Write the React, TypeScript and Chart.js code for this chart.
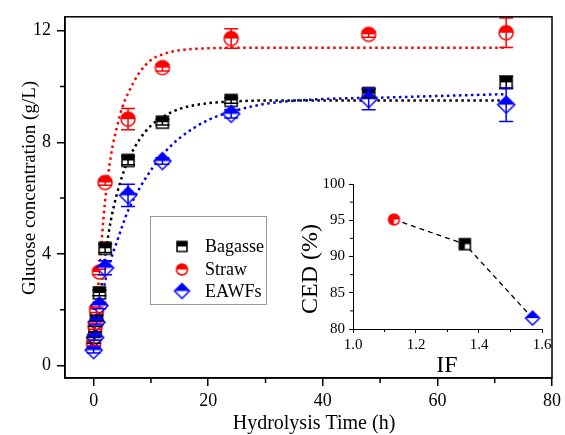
import React, { useEffect, useRef } from "react";
import { Chart, registerables } from "chart.js";
Chart.register(...registerables);

// ---------- main chart data ----------
const timeH = [0, 0.25, 0.5, 1, 2, 6, 12, 24, 48, 72];
const bagasse = [0.9, 1.3, 1.7, 2.6, 4.2, 7.35, 8.72, 9.5, 9.75, 10.15];
const bagasseErr = [0.1, 0.1, 0.1, 0.1, 0.15, 0.15, 0.1, 0.1, 0.15, 0.22];
const straw = [0.8, 1.4, 2.0, 3.35, 6.56, 8.83, 10.68, 11.72, 11.87, 11.93];
const strawErr = [0.1, 0.1, 0.1, 0.1, 0.1, 0.38, 0.12, 0.35, 0.1, 0.53];
const eawfs = [0.55, 1.0, 1.55, 2.15, 3.5, 6.1, 7.33, 9.02, 9.55, 9.35];
const eawfsErr = [0.1, 0.1, 0.1, 0.12, 0.25, 0.4, 0.12, 0.15, 0.38, 0.6];

const fitTime = [0, 0.5, 1, 2, 3, 4, 5, 6, 8, 10, 12, 15, 20, 25, 30, 40, 50, 60, 72];
const bagasseFit = [0.3, 1.3, 2.2, 3.9, 5.2, 6.1, 6.8, 7.35, 8.1, 8.6, 8.9, 9.2, 9.4, 9.47, 9.5, 9.5, 9.5, 9.5, 9.5];
const strawFit = [0.3, 1.9, 3.4, 5.9, 7.5, 8.5, 9.25, 9.75, 10.5, 10.95, 11.15, 11.3, 11.37, 11.39, 11.39, 11.39, 11.39, 11.39, 11.39];
const eawfsFit = [0.3, 1.0, 1.7, 3.0, 3.8, 4.4, 5.0, 5.55, 6.35, 7.0, 7.55, 8.15, 8.8, 9.15, 9.38, 9.55, 9.6, 9.66, 9.73];

const xTickValues = [0, 10, 20, 30, 40, 50, 60, 70, 80];
const xTickLabels = ["0", "", "20", "", "40", "", "60", "", "80"];
const yTickValues = [0, 2, 4, 6, 8, 10, 12];
const yTickLabels = ["0", "", "4", "", "8", "", "12"];

const seriesNames = ["Bagasse", "Straw", "EAWFs"];

// ---------- inset data ----------
const insetIF = [1.13, 1.355, 1.57];
const insetCED = [95.1, 91.7, 81.5];
const insetXTicks = [1.0, 1.1, 1.2, 1.3, 1.4, 1.5, 1.6];
const insetXLabels = ["1.0", "", "1.2", "", "1.4", "", "1.6"];
const insetYTicks = [80, 82.5, 85, 87.5, 90, 92.5, 95, 97.5, 100];
const insetYLabels = ["80", "", "85", "", "90", "", "95", "", "100"];

const FONT = "'Liberation Serif', 'Times New Roman', serif";
const BLACK = "#000000";
const RED = "#ff0000";
const BLUE = "#0000ff";

type Shape = "square" | "circle" | "diamond";
function makeMarker(shape: Shape, color: string, size: number, mode: "top" | "quarter"): HTMLCanvasElement {
  const pad = 2;
  const s = Math.round(size + pad * 2);
  const c = document.createElement("canvas");
  c.width = s;
  c.height = s;
  const g = c.getContext("2d")!;
  const cx = s / 2, cy = s / 2, r = size / 2;
  const path = () => {
    g.beginPath();
    if (shape === "circle") g.arc(cx, cy, r, 0, Math.PI * 2);
    else if (shape === "square") g.rect(cx - r, cy - r, size, size);
    else {
      g.moveTo(cx, cy - r);
      g.lineTo(cx + r, cy);
      g.lineTo(cx, cy + r);
      g.lineTo(cx - r, cy);
      g.closePath();
    }
  };
  path();
  g.fillStyle = "#ffffff";
  g.fill();
  g.save();
  path();
  g.clip();
  g.fillStyle = color;
  if (mode === "top") {
    g.fillRect(0, 0, s, cy);
  } else {
    g.fillRect(0, 0, s, s);
    g.fillStyle = "#ffffff";
    g.fillRect(cx, cy, s, s);
  }
  g.restore();
  path();
  g.lineWidth = 1.5;
  g.strokeStyle = color;
  g.stroke();
  return c;
}

export default function App() {
  const mainRef = useRef<HTMLCanvasElement>(null);
  const insetRef = useRef<HTMLCanvasElement>(null);

  useEffect(() => {
    const sqM = makeMarker("square", BLACK, 12, "top");
    const ciM = makeMarker("circle", RED, 14, "top");
    const diM = makeMarker("diamond", BLUE, 17, "top");
    const sqL = makeMarker("square", BLACK, 10, "top");
    const ciL = makeMarker("circle", RED, 11, "top");
    const diL = makeMarker("diamond", BLUE, 15, "top");
    const markers = [sqM, ciM, diM];
    const legendMarkers = [sqL, ciL, diL];
    const colors = [BLACK, RED, BLUE];
    const values = [bagasse, straw, eawfs];
    const errs = [bagasseErr, strawErr, eawfsErr];
    const fits = [bagasseFit, strawFit, eawfsFit];

    const fitSets = fits.map((f, k) => ({
      label: seriesNames[k] + " fit",
      data: fitTime.map((t, i) => ({ x: t, y: f[i] })),
      showLine: true,
      borderColor: colors[k],
      borderWidth: 2.5,
      borderDash: [2.5, 3.5],
      borderCapStyle: "butt" as const,
      pointRadius: 0,
      cubicInterpolationMode: "monotone" as const,
      order: 10,
    }));
    const pointSets = values.map((v, k) => ({
      label: seriesNames[k],
      data: timeH.map((t, i) => ({ x: t, y: v[i] })),
      showLine: false,
      pointStyle: markers[k] as any,
      pointRadius: 7,
      borderColor: colors[k],
      backgroundColor: colors[k],
      order: 3 - k,
    }));

    const mainPlugin = {
      id: "mainDecor",
      afterDatasetsDraw(chart: any) {
        const { ctx } = chart;
        const xs = chart.scales.x, ys = chart.scales.y;
        ctx.save();
        ctx.lineWidth = 1.5;
        for (let k = 0; k < 3; k++) {
          ctx.strokeStyle = colors[k];
          for (let i = 0; i < timeH.length; i++) {
            const x = xs.getPixelForValue(timeH[i]);
            const y1 = ys.getPixelForValue(values[k][i] + errs[k][i]);
            const y2 = ys.getPixelForValue(values[k][i] - errs[k][i]);
            ctx.beginPath();
            ctx.moveTo(x, y1);
            ctx.lineTo(x, y2);
            ctx.moveTo(x - 7, y1);
            ctx.lineTo(x + 7, y1);
            ctx.moveTo(x - 7, y2);
            ctx.lineTo(x + 7, y2);
            ctx.stroke();
          }
        }
        ctx.restore();
      },
      afterDraw(chart: any) {
        const { ctx, chartArea: a } = chart;
        const xs = chart.scales.x, ys = chart.scales.y;
        ctx.save();
        // frame
        ctx.strokeStyle = BLACK;
        ctx.lineWidth = 1.5;
        ctx.strokeRect(a.left, a.top, a.right - a.left, a.bottom - a.top);
        // minor ticks
        ctx.beginPath();
        xTickValues.forEach((v, i) => {
          if (xTickLabels[i] === "") {
            const x = xs.getPixelForValue(v);
            ctx.moveTo(x, a.bottom);
            ctx.lineTo(x, a.bottom + 5);
          }
        });
        yTickValues.forEach((v, i) => {
          if (yTickLabels[i] === "") {
            const y = ys.getPixelForValue(v);
            ctx.moveTo(a.left, y);
            ctx.lineTo(a.left - 5, y);
          }
        });
        ctx.stroke();
        // axis titles
        ctx.fillStyle = BLACK;
        ctx.font = `20px ${FONT}`;
        ctx.textAlign = "center";
        ctx.textBaseline = "middle";
        ctx.fillText("Hydrolysis Time (h)", 314, 424);
        ctx.save();
        ctx.translate(30, 188);
        ctx.rotate(-Math.PI / 2);
        ctx.font = `19px ${FONT}`;
        ctx.fillText("Glucose concentration (g/L)", 0, 0);
        ctx.restore();
        // legend
        ctx.strokeStyle = "#9a9a9a";
        ctx.lineWidth = 1;
        ctx.strokeRect(150.5, 216.5, 116, 88);
        const rows = [246.5, 269.5, 291];
        ctx.font = `18px ${FONT}`;
        ctx.textAlign = "left";
        ctx.fillStyle = BLACK;
        for (let k = 0; k < 3; k++) {
          const m = legendMarkers[k];
          ctx.drawImage(m, 182 - m.width / 2, rows[k] - m.height / 2);
          ctx.fillText(seriesNames[k], 205, rows[k] + 1);
        }
        ctx.restore();
      },
    };

    const main = new Chart(mainRef.current!, {
      type: "scatter",
      data: { datasets: [...fitSets, ...pointSets] as any },
      options: {
        animation: false,
        responsive: false,
        maintainAspectRatio: false,
        layout: { padding: { left: 0, right: 11, top: 15, bottom: 0 } },
        plugins: { legend: { display: false }, tooltip: { enabled: false } },
        scales: {
          x: {
            type: "linear",
            min: -5,
            max: 80,
            afterBuildTicks: (s: any) => {
              s.ticks = xTickValues.map((v) => ({ value: v }));
            },
            afterFit: (s: any) => {
              s.height = 57;
            },
            ticks: {
              autoSkip: false,
              maxRotation: 0,
              padding: 4,
              color: BLACK,
              font: { family: FONT, size: 18 },
              callback: (_v: any, i: number) => xTickLabels[i],
            },
            grid: {
              drawOnChartArea: false,
              drawTicks: true,
              tickLength: 8,
              lineWidth: 1.5,
              tickColor: (c: any) => (xTickLabels[c.index] ? BLACK : "rgba(0,0,0,0)"),
            },
            border: { color: BLACK, width: 1.5 },
          },
          y: {
            type: "linear",
            min: -0.45,
            max: 12.5,
            afterBuildTicks: (s: any) => {
              s.ticks = yTickValues.map((v) => ({ value: v }));
            },
            afterFit: (s: any) => {
              s.width = 65;
            },
            ticks: {
              autoSkip: false,
              padding: 6,
              color: BLACK,
              font: { family: FONT, size: 18 },
              callback: (_v: any, i: number) => yTickLabels[i],
            },
            grid: {
              drawOnChartArea: false,
              drawTicks: true,
              tickLength: 8,
              lineWidth: 1.5,
              tickColor: (c: any) => (yTickLabels[c.index] ? BLACK : "rgba(0,0,0,0)"),
            },
            border: { color: BLACK, width: 1.5 },
          },
        },
      },
      plugins: [mainPlugin],
    });

    // ---------- inset ----------
    const inRed = makeMarker("circle", RED, 11, "quarter");
    const inBlack = makeMarker("square", BLACK, 11, "quarter");
    const inBlue = makeMarker("diamond", BLUE, 14, "top");
    const insetPlugin = {
      id: "insetDecor",
      afterDraw(chart: any) {
        const { ctx, chartArea: a } = chart;
        const xs = chart.scales.x, ys = chart.scales.y;
        ctx.save();
        ctx.strokeStyle = BLACK;
        ctx.lineWidth = 1;
        ctx.beginPath();
        insetXTicks.forEach((v, i) => {
          if (insetXLabels[i] === "") {
            const x = xs.getPixelForValue(v);
            ctx.moveTo(x, a.bottom);
            ctx.lineTo(x, a.bottom + 3);
          }
        });
        insetYTicks.forEach((v, i) => {
          if (insetYLabels[i] === "") {
            const y = ys.getPixelForValue(v);
            ctx.moveTo(a.left, y);
            ctx.lineTo(a.left - 3, y);
          }
        });
        ctx.stroke();
        ctx.fillStyle = BLACK;
        ctx.font = `24px ${FONT}`;
        ctx.textAlign = "center";
        ctx.textBaseline = "middle";
        ctx.fillText("IF", 157, 226);
        ctx.save();
        ctx.translate(21, 129);
        ctx.rotate(-Math.PI / 2);
        ctx.fillText("CED (%)", 0, 0);
        ctx.restore();
        ctx.restore();
      },
    };
    const inset = new Chart(insetRef.current!, {
      type: "scatter",
      data: {
        datasets: [
          {
            label: "CED",
            data: insetIF.map((x, i) => ({ x, y: insetCED[i] })),
            showLine: true,
            borderColor: BLACK,
            borderWidth: 1.3,
            borderDash: [5, 4],
            pointStyle: [inRed, inBlack, inBlue] as any,
            pointRadius: 6,
          } as any,
        ],
      },
      options: {
        animation: false,
        responsive: false,
        maintainAspectRatio: false,
        layout: { padding: { left: 0, right: 18, top: 44, bottom: 0 } },
        plugins: { legend: { display: false }, tooltip: { enabled: false } },
        scales: {
          x: {
            type: "linear",
            min: 1.0,
            max: 1.6,
            afterBuildTicks: (s: any) => {
              s.ticks = insetXTicks.map((v) => ({ value: v }));
            },
            afterFit: (s: any) => {
              s.height = 51;
            },
            ticks: {
              autoSkip: false,
              maxRotation: 0,
              padding: 3,
              color: BLACK,
              font: { family: FONT, size: 15 },
              callback: (_v: any, i: number) => insetXLabels[i],
            },
            grid: {
              drawOnChartArea: false,
              drawTicks: true,
              tickLength: 4,
              lineWidth: 1,
              tickColor: (c: any) => (insetXLabels[c.index] ? BLACK : "rgba(0,0,0,0)"),
            },
            border: { color: BLACK, width: 1 },
          },
          y: {
            type: "linear",
            min: 80,
            max: 100,
            afterBuildTicks: (s: any) => {
              s.ticks = insetYTicks.map((v) => ({ value: v }));
            },
            afterFit: (s: any) => {
              s.width = 63;
            },
            ticks: {
              autoSkip: false,
              padding: 4,
              color: BLACK,
              font: { family: FONT, size: 15 },
              callback: (_v: any, i: number) => insetYLabels[i],
            },
            grid: {
              drawOnChartArea: false,
              drawTicks: true,
              tickLength: 4,
              lineWidth: 1,
              tickColor: (c: any) => (insetYLabels[c.index] ? BLACK : "rgba(0,0,0,0)"),
            },
            border: { color: BLACK, width: 1 },
          },
        },
      },
      plugins: [insetPlugin],
    });

    return () => {
      main.destroy();
      inset.destroy();
    };
  }, []);

  return (
    <div style={{ position: "fixed", left: 0, top: 0, width: 565, height: 435, background: "#ffffff" }}>
      <canvas
        ref={mainRef}
        width={565}
        height={435}
        style={{ position: "absolute", left: 0, top: 0, width: 565, height: 435 }}
      />
      <canvas
        ref={insetRef}
        width={270}
        height={240}
        style={{ position: "absolute", left: 290, top: 140, width: 270, height: 240 }}
      />
    </div>
  );
}
